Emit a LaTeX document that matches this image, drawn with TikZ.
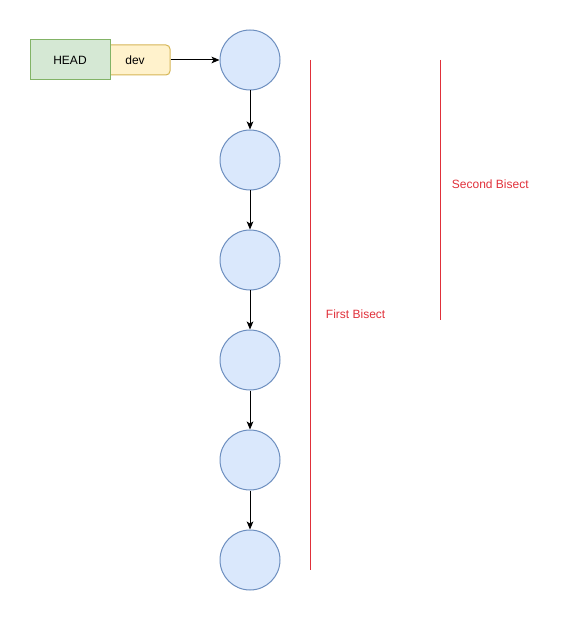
\documentclass[tikz,border=0pt]{standalone}
\usepackage{fontspec}
\setmainfont{Liberation Sans}
\usepackage{xcolor}
\usepackage{tikz}
\usetikzlibrary{shapes.geometric, arrows, arrows.meta, positioning, calc}
\definecolor{commitfill}{HTML}{DAE8FC}
\definecolor{commitdraw}{HTML}{6C8EBF}
\definecolor{headfill}{HTML}{D5E8D4}
\definecolor{headdraw}{HTML}{82B366}
\definecolor{devfill}{HTML}{FFF2CC}
\definecolor{devdraw}{HTML}{D6B656}
\definecolor{bisectred}{HTML}{E0303A}

\begin{document}
\begin{tikzpicture}[x=0.75pt, y=-0.75pt, >={Stealth[length=6pt,width=5pt,inset=1.5pt]}, line width=0.75pt,
    font=\fontsize{9}{11}\selectfont,
    commit/.style={circle, draw=commitdraw, fill=commitfill, minimum size=45pt, inner sep=0pt},
    link/.style={->, black}]
    \useasboundingbox (0,0) rectangle (580,630);

    % Branch pointer and HEAD
    \node[draw=devdraw, fill=devfill, rounded corners=3pt, minimum width=52.5pt, minimum height=22.5pt,
          inner sep=0pt, text=black] (dev) at (135,60) {dev};
    \node[draw=headdraw, fill=headfill, minimum width=60pt, minimum height=30pt, inner sep=0pt] (head) at (70,60) {HEAD};

    % Commits
    \node[commit] (c1) at (250,60) {};
    \foreach \i [remember=\i as \j (initially 1)] in {2,...,6}
        \node[commit, below=29.25pt of c\j] (c\i) {};

    % Links
    \draw[link] (dev) -- (c1);
    \foreach \i [remember=\i as \j (initially 1)] in {2,...,6}
        \draw[link] (c\j) -- (c\i);

    % Bisect ranges
    \coordinate (first top) at (310,60);
    \coordinate (first bottom) at (310,570);
    \coordinate (second top) at (440,60);
    \coordinate (second bottom) at (440,320);
    \draw[bisectred] (first top) -- (first bottom);
    \draw[bisectred] (second top) -- (second bottom);
    \node[bisectred, anchor=west] (first label) at (321,314) {First Bisect};
    \node[bisectred, anchor=west] (second label) at (447,184) {Second Bisect};
\end{tikzpicture}
\end{document}
